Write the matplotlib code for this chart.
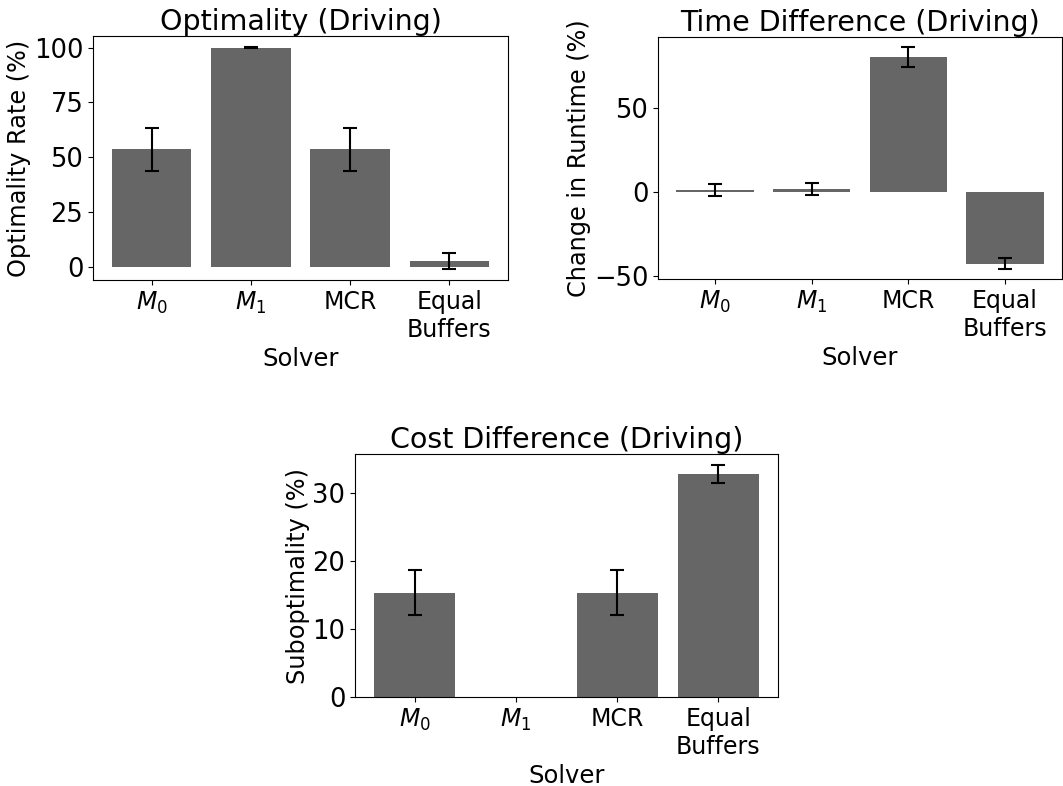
import matplotlib
matplotlib.use('Agg')
import matplotlib.pyplot as plt

solvers = ['$M_0$', '$M_1$', 'MCR', 'Equal\nBuffers']

optimality = [53.6, 99.9, 53.6, 2.7]
optimality_err = [9.7, 0.3, 9.7, 3.6]

time_diff = [0.9, 1.6, 80.2, -43.0]
time_err = [3.4, 3.7, 6.1, 3.2]

cost_diff = [15.3, 0.0, 15.3, 32.8]
cost_err = [3.3, float('nan'), 3.3, 1.3]

fig = plt.figure(figsize=(10.63, 7.86), dpi=100)
W, H = 1063, 786


def add_ax(left, top, right, bottom):
    return fig.add_axes([left / W, 1 - bottom / H, (right - left) / W, (bottom - top) / H])


panels = [
    (add_ax(93, 36, 508, 280), optimality, optimality_err,
     'Optimality (Driving)', 'Optimality Rate (%)', [0, 25, 50, 75, 100]),
    (add_ax(658, 37, 1062, 279), time_diff, time_err,
     'Time Difference (Driving)', 'Change in Runtime (%)', [-50, 0, 50]),
    (add_ax(355, 454, 778, 697), cost_diff, cost_err,
     'Cost Difference (Driving)', 'Suboptimality (%)', [0, 10, 20, 30]),
]

for ax, vals, errs, title, ylabel, yticks in panels:
    x = range(len(solvers))
    ax.bar(x, vals, yerr=errs, color='#666666', capsize=5,
           error_kw={'elinewidth': 1.5, 'capthick': 1.5, 'ecolor': 'black'})
    ax.set_xticks(list(x))
    ax.set_xticklabels(solvers, fontsize=17)
    ax.set_yticks(yticks)
    ax.tick_params(axis='y', labelsize=18.5)
    ax.set_title(title, fontsize=20.5, pad=4)
    ax.set_ylabel(ylabel, fontsize=17.3, labelpad=2)
    ax.set_xlabel('Solver', fontsize=17.5)

panels[1][0].set_ylim(-52, 92)
panels[2][0].set_ylim(0, 35.7)

fig.savefig('out.png', dpi=100)
